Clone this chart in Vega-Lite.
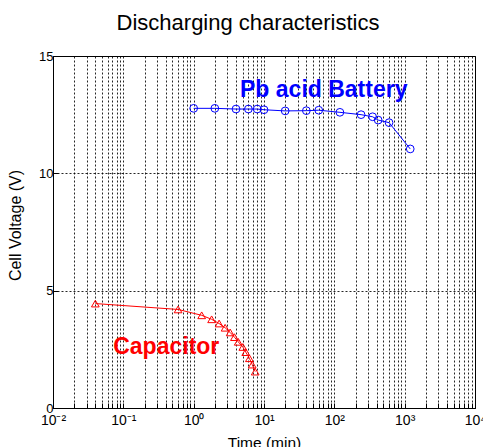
{
  "$schema": "https://vega.github.io/schema/vega-lite/v6.json",
  "width": 422,
  "height": 352,
  "autosize": {"type": "none"},
  "padding": {"left": 53, "top": 56, "right": 8, "bottom": 39},
  "background": "white",
  "config": {
    "font": "Liberation Sans",
    "view": {"stroke": "black", "strokeWidth": 1},
    "axis": {
      "labelColor": "black",
      "titleColor": "black",
      "domainColor": "black",
      "tickColor": "black",
      "labelFont": "Liberation Sans",
      "titleFont": "Liberation Sans",
      "titleFontWeight": "normal",
      "gridColor": "black",
      "gridDash": [2, 2],
      "gridOpacity": 0.85,
      "gridWidth": 1
    }
  },
  "title": {
    "text": "Discharging characteristics",
    "fontSize": 22,
    "fontWeight": "normal",
    "font": "Liberation Sans",
    "color": "black",
    "anchor": "middle",
    "baseline": "alphabetic",
    "offset": -2,
    "dx": -16
  },
  "datasets": {
    "curves": [
      {"series": "Pb acid Battery", "t": 1, "v": 12.77},
      {"series": "Pb acid Battery", "t": 2, "v": 12.77},
      {"series": "Pb acid Battery", "t": 4, "v": 12.74},
      {"series": "Pb acid Battery", "t": 6, "v": 12.74},
      {"series": "Pb acid Battery", "t": 8, "v": 12.74},
      {"series": "Pb acid Battery", "t": 10, "v": 12.71},
      {"series": "Pb acid Battery", "t": 20, "v": 12.66},
      {"series": "Pb acid Battery", "t": 40, "v": 12.67},
      {"series": "Pb acid Battery", "t": 60, "v": 12.69},
      {"series": "Pb acid Battery", "t": 120, "v": 12.6},
      {"series": "Pb acid Battery", "t": 240, "v": 12.5},
      {"series": "Pb acid Battery", "t": 350, "v": 12.41},
      {"series": "Pb acid Battery", "t": 420, "v": 12.27},
      {"series": "Pb acid Battery", "t": 600, "v": 12.16},
      {"series": "Pb acid Battery", "t": 1200, "v": 11.04},
      {"series": "Capacitor", "t": 0.04, "v": 4.45},
      {"series": "Capacitor", "t": 0.6, "v": 4.2},
      {"series": "Capacitor", "t": 1.3, "v": 3.95},
      {"series": "Capacitor", "t": 1.8, "v": 3.78},
      {"series": "Capacitor", "t": 2.3, "v": 3.6},
      {"series": "Capacitor", "t": 2.8, "v": 3.42},
      {"series": "Capacitor", "t": 3.3, "v": 3.22},
      {"series": "Capacitor", "t": 3.8, "v": 3.02},
      {"series": "Capacitor", "t": 4.3, "v": 2.82},
      {"series": "Capacitor", "t": 5.0, "v": 2.6},
      {"series": "Capacitor", "t": 5.5, "v": 2.38},
      {"series": "Capacitor", "t": 6.2, "v": 2.12},
      {"series": "Capacitor", "t": 6.8, "v": 1.85},
      {"series": "Capacitor", "t": 7.5, "v": 1.55}
    ],
    "labels": [
      {"series": "Pb acid Battery", "t": 4.56, "v": 13.25},
      {"series": "Capacitor", "t": 0.0718, "v": 2.3}
    ]
  },
  "encoding": {
    "x": {
      "field": "t",
      "type": "quantitative",
      "scale": {"type": "log", "domain": [0.01, 10000], "nice": false},
      "axis": {
        "title": "Time (min)",
        "titleFontSize": 15.5,
        "titlePadding": 8,
        "labelFontSize": 14,
        "labelPadding": 10,
        "labelOverlap": false,
        "labelFlush": false,
        "tickSize": -5,
        "grid": true,
        "values": [0.01, 0.02, 0.03, 0.04, 0.05, 0.06, 0.07, 0.08, 0.09, 0.1, 0.2, 0.3, 0.4, 0.5, 0.6, 0.7, 0.8, 0.9, 1, 2, 3, 4, 5, 6, 7, 8, 9, 10, 20, 30, 40, 50, 60, 70, 80, 90, 100, 200, 300, 400, 500, 600, 700, 800, 900, 1000, 2000, 3000, 4000, 5000, 6000, 7000, 8000, 9000, 10000],
        "labelExpr": "abs(log(datum.value)/LN10 - round(log(datum.value)/LN10)) < 0.001 ? '10' + (round(log(datum.value)/LN10) < 0 ? '⁻' : '') + ['⁰','¹','²','³','⁴'][abs(round(log(datum.value)/LN10))] : ''"
      }
    },
    "y": {
      "field": "v",
      "type": "quantitative",
      "scale": {"domain": [0, 15], "nice": false},
      "axis": {
        "title": "Cell Voltage (V)",
        "titleFontSize": 16,
        "titlePadding": 15,
        "titleY": 169,
        "labelFontSize": 13,
        "labelPadding": 5,
        "tickSize": -5,
        "grid": true,
        "values": [0, 5, 10, 15]
      }
    },
    "color": {
      "field": "series",
      "type": "nominal",
      "scale": {"domain": ["Pb acid Battery", "Capacitor"], "range": ["#0000ff", "#ff0000"]},
      "legend": null
    }
  },
  "layer": [
    {
      "data": {"name": "curves"},
      "mark": {"type": "line", "strokeWidth": 1},
      "encoding": {"order": {"field": "t", "type": "quantitative"}}
    },
    {
      "data": {"name": "curves"},
      "mark": {"type": "point", "filled": false, "size": 60, "strokeWidth": 1, "opacity": 1},
      "encoding": {
        "shape": {
          "field": "series",
          "type": "nominal",
          "scale": {"domain": ["Pb acid Battery", "Capacitor"], "range": ["circle", "triangle-up"]},
          "legend": null
        }
      }
    },
    {
      "data": {"name": "labels"},
      "transform": [{"filter": "datum.series == 'Pb acid Battery'"}],
      "mark": {"type": "text", "fontSize": 23, "fontWeight": "bold", "align": "left", "baseline": "alphabetic", "font": "Liberation Sans"},
      "encoding": {"text": {"field": "series"}}
    },
    {
      "data": {"name": "labels"},
      "transform": [{"filter": "datum.series == 'Capacitor'"}],
      "mark": {"type": "text", "fontSize": 23, "fontWeight": "bold", "align": "left", "baseline": "alphabetic", "font": "Liberation Sans"},
      "encoding": {"text": {"field": "series"}}
    }
  ]
}
